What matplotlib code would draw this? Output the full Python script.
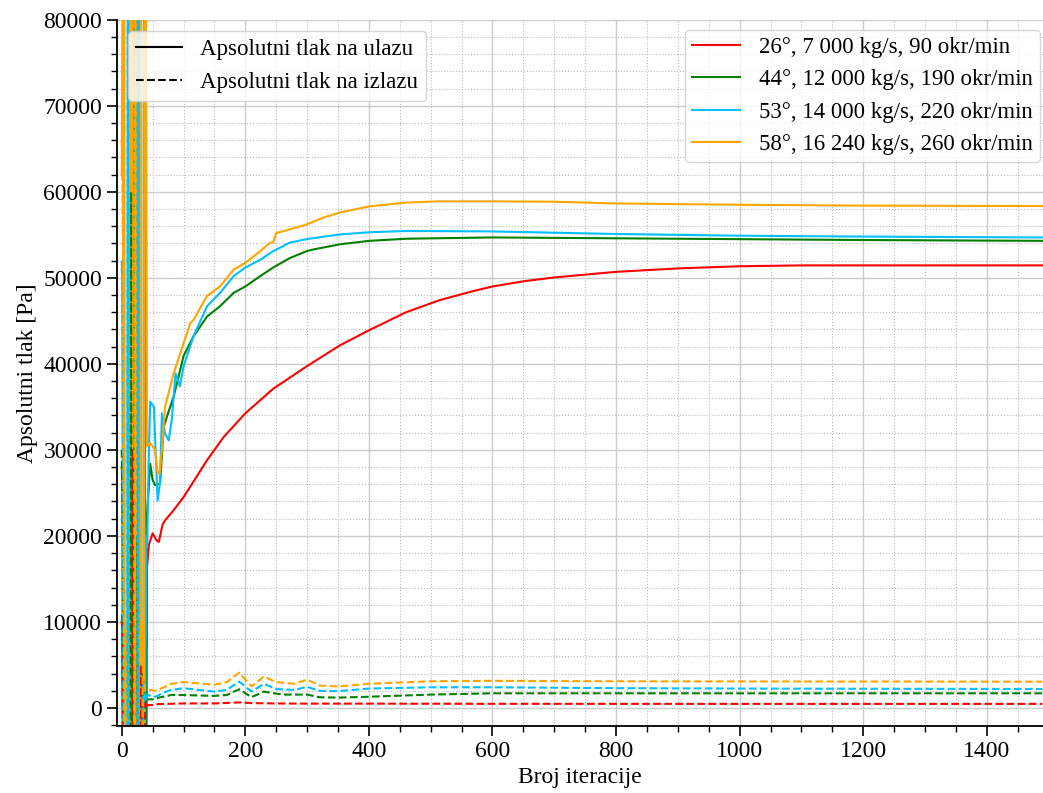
import matplotlib
matplotlib.use("Agg")
import matplotlib.pyplot as plt
from matplotlib.lines import Line2D
from matplotlib.ticker import MultipleLocator

plt.rcParams["font.family"] = ["Liberation Serif", "DejaVu Serif"]

# case labels and colours
labels = [
    "26°, 7 000 kg/s, 90 okr/min",
    "44°, 12 000 kg/s, 190 okr/min",
    "53°, 14 000 kg/s, 220 okr/min",
    "58°, 16 240 kg/s, 260 okr/min",
]
colors = ["red", "green", "deepskyblue", "orange"]

# inlet pressure (solid); the first ~40 iterations swing far off the axis
red_in_x = [0, 1, 2, 11, 12, 13, 25, 26, 27, 38,
            39, 41, 44, 50, 56, 60, 66, 70, 84, 100,
            116, 138, 165, 200, 245, 299, 353, 400, 460, 514,
            568, 600, 650, 700, 800, 900, 1000, 1100, 1200, 1490]
red_in_y = [10000, 10800, -9000, -9000, 120000, -9000, -9000, 120000, -9000, -9000,
            17500, 16500, 19000, 20300, 19500, 19300, 21300, 21800, 23000, 24500,
            26300, 28800, 31500, 34250, 37100, 39700, 42150, 43900, 46000, 47400,
            48450, 49000, 49600, 50050, 50700, 51100, 51350, 51450, 51450, 51450]

green_in_x = [0, 1, 2, 14, 15, 16, 17, 20, 21, 22,
              28, 29, 30, 36, 37, 38, 40, 41, 46, 50,
              54, 62, 68, 76, 84, 100, 116, 138, 159, 181,
              200, 224, 245, 272, 299, 310, 353, 400, 460, 600,
              800, 1000, 1200, 1490]
green_in_y = [28000, 26000, -9000, -9000, 120000, 120000, -9000, -9000, 120000, -9000,
              -9000, 120000, -9000, -9000, 120000, -9000, -9000, 22600, 28400, 26500,
              25900, 26100, 32700, 34500, 36200, 40900, 43200, 45500, 46700, 48250,
              49000, 50200, 51200, 52300, 53100, 53300, 53900, 54300, 54550, 54700,
              54600, 54500, 54400, 54300]

cyan_in_x = [0, 1, 2, 9, 10, 11, 27, 28, 29, 30,
             31, 35, 36, 37, 40, 41, 44, 46, 52, 58,
             62, 65, 70, 76, 81, 87, 94, 100, 116, 138,
             159, 181, 200, 224, 245, 272, 299, 353, 400, 460,
             600, 800, 1000, 1200, 1490]
cyan_in_y = [51000, 50000, -9000, -9000, 120000, -9000, -9000, 56000, 120000, 120000,
             -9000, -9000, 120000, -9000, 20000, 18700, 30000, 35600, 35000, 24100,
             26300, 34250, 31900, 31100, 33500, 38900, 37400, 39700, 43200, 46700,
             48250, 50200, 51200, 52100, 53100, 54100, 54500, 55050, 55300, 55450,
             55400, 55100, 54900, 54800, 54700]

orange_in_x = [0, 1, 2, 3, 4, 5, 6, 7, 8, 9,
               10, 11, 12, 13, 14, 15, 16, 17, 18, 19,
               20, 21, 22, 23, 24, 25, 26, 27, 28, 29,
               30, 31, 32, 33, 34, 35, 36, 37, 38, 41,
               46, 54, 58, 61, 65, 70, 84, 100, 111, 116,
               138, 159, 181, 200, 224, 240, 245, 250, 272, 299,
               326, 353, 400, 460, 514, 600, 700, 800, 1000, 1200,
               1490]
orange_in_y = [62000, 80000, 120000, -9000, 120000, -9000, 9000, -9000, 6000, -9000,
               11000, -9000, 5000, 120000, -9000, 8000, 120000, -9000, 10000, -9000,
               7000, -9000, 12000, 120000, -9000, 120000, -9000, 9000, -9000, 6000,
               -9000, 120000, -9000, 10000, -9000, 7000, -9000, 120000, 120000, 30400,
               30800, 30000, 27300, 27250, 30000, 35000, 38900, 42400, 44750, 45100,
               47900, 49000, 50950, 51750, 53100, 54100, 54100, 55200, 55650, 56200,
               57000, 57600, 58300, 58750, 58900, 58900, 58850, 58650, 58500, 58400,
               58350]

# outlet pressure (dashed)
red_out_x = [0, 1, 2, 17, 18, 19, 30, 31, 32, 36,
             38, 40, 50, 60, 100, 150, 190, 210, 250, 300,
             400, 600, 1000, 1490]
red_out_y = [10000, 9000, -9000, -9000, 30000, -9000, -9000, 5000, -9000, -9000,
             800, 300, 350, 450, 520, 520, 640, 560, 520, 500,
             500, 480, 470, 470]

green_out_x = [0, 1, 2, 3, 14, 15, 16, 24, 25, 26,
               33, 34, 36, 40, 50, 60, 80, 100, 150, 170,
               190, 210, 230, 260, 300, 320, 350, 400, 500, 600,
               800, 1000, 1490]
green_out_y = [30000, 25000, 19500, -9000, -9000, 60000, -9000, -9000, 20000, -9000,
               -9000, 4000, 1500, 1000, 1000, 1200, 1500, 1500, 1400, 1500,
               2170, 1250, 1900, 1550, 1550, 1240, 1200, 1300, 1550, 1700,
               1700, 1700, 1700]

cyan_out_x = [0, 1, 2, 3, 9, 10, 11, 25, 26, 27,
              34, 35, 38, 42, 55, 65, 80, 100, 150, 170,
              190, 210, 230, 250, 280, 300, 320, 350, 400, 500,
              600, 800, 1000, 1490]
cyan_out_y = [52000, 50000, 40000, -9000, -9000, 120000, -9000, -9000, 120000, -9000,
              -9000, 3000, 700, 1500, 1300, 1700, 2100, 2290, 1900, 2100,
              3060, 1900, 2800, 2200, 2100, 2450, 1990, 1950, 2250, 2400,
              2400, 2300, 2250, 2200]

orange_out_x = [0, 1, 2, 3, 4, 20, 21, 22, 33, 34,
                36, 38, 45, 55, 65, 80, 100, 150, 170, 190,
                210, 230, 250, 280, 300, 320, 350, 400, 500, 600,
                800, 1000, 1490]
orange_out_y = [66000, 62000, 54000, 40000, -9000, -9000, 120000, -9000, -9000, 6000,
                3500, 2000, 2100, 2000, 2300, 2800, 3000, 2700, 3000, 4100,
                2500, 3650, 3000, 2800, 3300, 2600, 2500, 2800, 3100, 3150,
                3100, 3080, 3050]

inlet = [(red_in_x, red_in_y), (green_in_x, green_in_y), (cyan_in_x, cyan_in_y),
         (orange_in_x, orange_in_y)]
outlet = [(red_out_x, red_out_y), (green_out_x, green_out_y), (cyan_out_x, cyan_out_y),
          (orange_out_x, orange_out_y)]


def build_plot(out_path: str) -> None:
    fig = plt.figure(figsize=(10.43, 7.93), dpi=100)
    ax = fig.add_axes([0.112, 0.0845, 0.888, 0.8905])

    for (x, y), c in zip(inlet, colors):
        ax.plot(x, y, color=c, lw=1.5, ls="-")
    for (x, y), c in zip(outlet, colors):
        ax.plot(x, y, color=c, lw=1.5, ls="--")

    ax.set_xlim(-8, 1491)
    ax.set_ylim(-2100, 80000)
    ax.xaxis.set_major_locator(MultipleLocator(200))
    ax.xaxis.set_minor_locator(MultipleLocator(50))
    ax.yaxis.set_major_locator(MultipleLocator(10000))
    ax.yaxis.set_minor_locator(MultipleLocator(2000))

    ax.grid(which="major", color="#cccccc", lw=1.0, ls="-")
    ax.grid(which="minor", color="#bbbbbb", lw=0.8, ls=":")
    ax.set_axisbelow(True)

    ax.spines["top"].set_visible(False)
    ax.spines["right"].set_visible(False)
    for s in ("left", "bottom"):
        ax.spines[s].set_linewidth(1.3)
        ax.spines[s].set_color("black")
    ax.tick_params(which="major", length=7, width=1.2, labelsize=17, direction="out")
    ax.tick_params(which="minor", length=4, width=1.0, direction="out")

    ax.set_xlabel("Broj iteracije", fontsize=17)
    ax.set_ylabel("Apsolutni tlak [Pa]", fontsize=17)

    style_handles = [Line2D([0], [0], color="black", lw=1.5, ls="-"),
                     Line2D([0], [0], color="black", lw=1.5, ls="--")]
    leg1 = ax.legend(style_handles, ["Apsolutni tlak na ulazu", "Apsolutni tlak na izlazu"],
                     loc="upper left", fontsize=16.5, handlelength=2.0, borderpad=0.35,
                     borderaxespad=0.5, bbox_to_anchor=(0.0, 1.0))
    ax.add_artist(leg1)

    case_handles = [Line2D([0], [0], color=c, lw=1.5) for c in colors]
    ax.legend(case_handles, labels, loc="upper right", fontsize=16.5, handlelength=2.1,
              borderpad=0.3, borderaxespad=0.15, bbox_to_anchor=(1.0, 0.9907))

    fig.savefig(out_path, dpi=100)
    plt.close(fig)


if __name__ == "__main__":
    build_plot("out.png")
